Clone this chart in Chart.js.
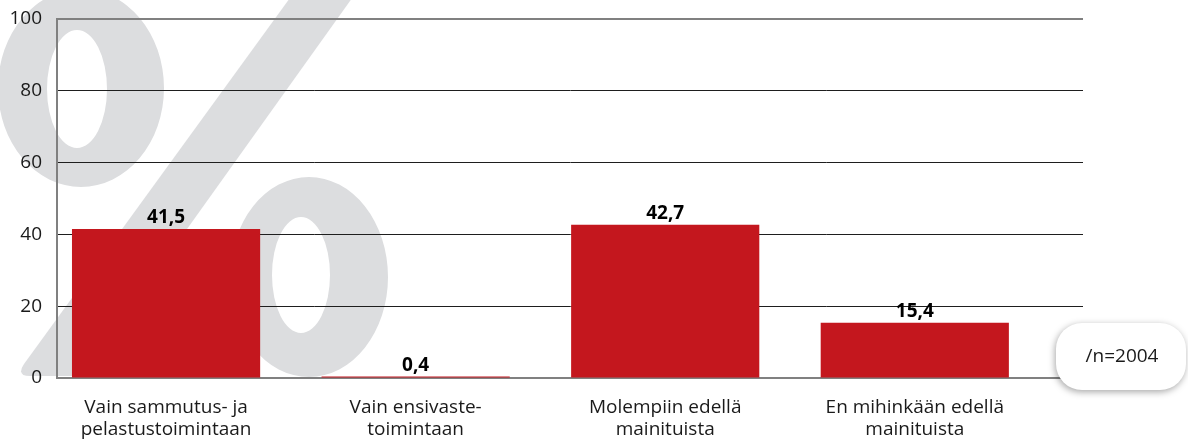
<!DOCTYPE html>
<html>
<head>
<meta charset="utf-8">
<script src="https://cdn.jsdelivr.net/npm/chart.js@4/dist/chart.umd.min.js"></script>
<style>
	html, body { margin: 0; padding: 0; background: #fff; }
	canvas { display: block; }
</style>
</head>
<body>
<canvas id="chart" width="1188" height="441"></canvas>
<script>
// Data
const categories = [
	["Vain sammutus- ja", "pelastustoimintaan"],
	["Vain ensivaste-", "toimintaan"],
	["Molempiin edellä", "mainituista"],
	["En mihinkään edellä", "mainituista"]
];
const shares = [41.5, 0.4, 42.7, 15.4];
const yTicks = [0, 20, 40, 60, 80, 100];
const sampleNote = "/n=2004";

const theme = {
	bar: "#c4171e",
	grid: "#1e1e1e",
	axis: "#808080",
	text: "#1a1a1a",
	watermark: "#dcdddf",
	font: '"Open Sans", sans-serif'
};

Chart.defaults.font.family = theme.font;
Chart.defaults.color = theme.text;

function formatShare(value) {
	return value.toFixed(1).replace(".", ",");
}

// big grey "%" behind the plot, drawn as two rings and a slash
const watermarkPlugin = {
	id: "watermark",
	beforeDraw(chart) {
		const ctx = chart.ctx;
		ctx.save();
		ctx.fillStyle = "#fff";
		ctx.fillRect(0, 0, chart.width, chart.height);
		ctx.fillStyle = theme.watermark;

		ctx.beginPath();
		ctx.ellipse(81, 88, 83, 99, 0, 0, Math.PI * 2);
		ctx.ellipse(77, 89, 30, 59, 0, 0, Math.PI * 2);
		ctx.fill("evenodd");

		ctx.beginPath();
		ctx.ellipse(309, 277, 79, 100, 0, 0, Math.PI * 2);
		ctx.ellipse(301, 275, 29, 58, 0, 0, Math.PI * 2);
		ctx.fill("evenodd");

		ctx.beginPath();
		ctx.moveTo(303, -20);
		ctx.lineTo(365, -20);
		ctx.lineTo(82, 376);
		ctx.lineTo(30, 376);
		ctx.quadraticCurveTo(16, 376, 24, 364);
		ctx.closePath();
		ctx.fill();
		ctx.restore();
	}
};

const valueLabelPlugin = {
	id: "valueLabels",
	afterDatasetsDraw(chart) {
		const ctx = chart.ctx;
		const meta = chart.getDatasetMeta(0);
		ctx.save();
		ctx.font = `700 19px ${theme.font}`;
		ctx.fillStyle = "#000";
		ctx.textAlign = "center";
		ctx.textBaseline = "middle";
		meta.data.forEach((bar, i) => {
			ctx.fillText(formatShare(shares[i]), bar.x, bar.y - 11);
		});
		ctx.restore();
	}
};

const noteBoxPlugin = {
	id: "noteBox",
	afterDraw(chart) {
		const ctx = chart.ctx;
		const x = 1056, y = 323, w = 130, h = 67, r = 26;
		ctx.save();
		ctx.shadowColor = "rgba(0, 0, 0, 0.35)";
		ctx.shadowBlur = 7;
		ctx.shadowOffsetX = -1;
		ctx.shadowOffsetY = 2;
		ctx.fillStyle = "#fff";
		ctx.beginPath();
		ctx.roundRect(x, y, w, h, r);
		ctx.fill();
		ctx.restore();
		ctx.save();
		ctx.font = `400 19px ${theme.font}`;
		ctx.fillStyle = theme.text;
		ctx.textAlign = "center";
		ctx.textBaseline = "middle";
		ctx.fillText(sampleNote, x + w / 2 + 1, y + h / 2);
		ctx.restore();
	}
};

new Chart(document.getElementById("chart"), {
	type: "bar",
	data: {
		datasets: [
			{
				data: shares.map((value, i) => ({ x: i, y: value })),
				backgroundColor: theme.bar,
				borderWidth: 0,
				categoryPercentage: 1,
				barPercentage: 0.754
			}
		]
	},
	options: {
		responsive: false,
		animation: false,
		layout: { padding: { top: 19, right: 105, bottom: 0, left: 0 } },
		plugins: {
			legend: { display: false },
			tooltip: { enabled: false }
		},
		scales: {
			x: {
				type: "linear",
				offset: false,
				min: -0.437,
				max: 3.674,
				afterBuildTicks(scale) {
					scale.ticks = categories.map((c, i) => ({ value: i }));
				},
				afterFit(scale) {
					scale.height = 63;
				},
				grid: { display: false, drawTicks: false, offset: false },
				border: { display: true, color: theme.axis, width: 2 },
				ticks: {
					autoSkip: false,
					maxRotation: 0,
					padding: 19,
					color: theme.text,
					font: { size: 19, lineHeight: 1.16 },
					callback: (value, index) => categories[index]
				}
			},
			y: {
				min: 0,
				max: 100,
				afterBuildTicks(scale) {
					scale.ticks = yTicks.map((v) => ({ value: v }));
				},
				afterFit(scale) {
					scale.width = 57;
					scale.paddingTop = 0;
					scale.paddingBottom = 0;
				},
				grid: {
					drawTicks: false,
					color: (ctx) => (ctx.tick.value === 100 ? theme.axis : ctx.tick.value === 0 ? "rgba(0,0,0,0)" : theme.grid),
					lineWidth: (ctx) => (ctx.tick.value === 100 ? 2 : 1)
				},
				border: { display: true, color: theme.axis, width: 2 },
				ticks: {
					padding: 15,
					color: theme.text,
					font: { size: 19 },
					callback: (value) => String(value)
				}
			}
		}
	},
	plugins: [watermarkPlugin, valueLabelPlugin, noteBoxPlugin]
});
</script>
</body>
</html>
